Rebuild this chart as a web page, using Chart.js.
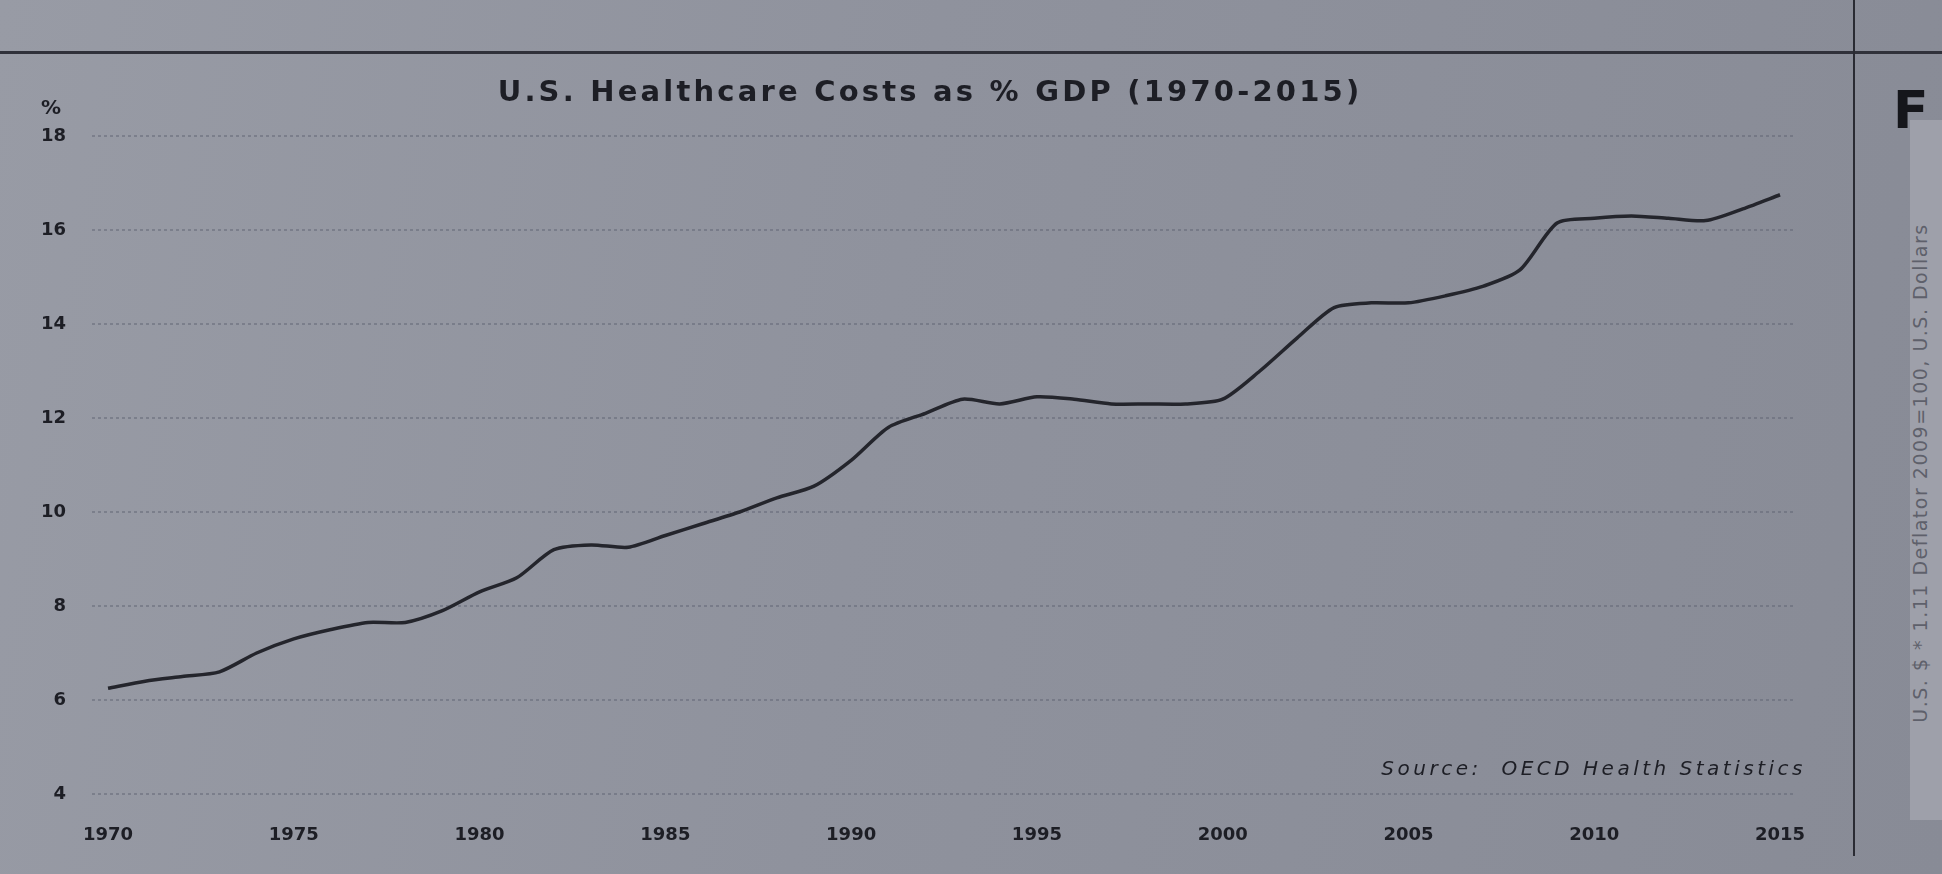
<!DOCTYPE html>
<html>
<head>
<meta charset="utf-8">
<title>U.S. Healthcare Costs as % GDP (1970-2015)</title>
<script src="https://cdn.jsdelivr.net/npm/chart.js@4.4.1/dist/chart.umd.min.js"></script>
<style>
  html, body { margin: 0; padding: 0; }
  body {
    width: 1942px; height: 874px; overflow: hidden; position: relative;
    background: linear-gradient(100deg, #989ba5 0%, #8f929d 45%, #888b96 100%);
    font-family: "DejaVu Sans", sans-serif;
  }
  #wrap { position: absolute; left: 0; top: 0; width: 1860px; height: 874px; }
  .rule-h { position: absolute; left: 0; top: 51px; width: 1942px; height: 3px; background: #30313a; }
  .rule-v { position: absolute; left: 1853px; top: 0; width: 2px; height: 856px; background: #2a2b33; }
  .side { position: absolute; left: 1910px; top: 120px; width: 32px; height: 700px; background: #9ea0aa; }
  .side-f { position: absolute; left: 1893px; top: 80px; font: bold 52px "DejaVu Sans"; color: #15161b; }
  .side-note { position: absolute; left: 1920px; top: 473px; transform: translate(-50%, -50%) rotate(-90deg);
    white-space: nowrap; font-size: 19px; letter-spacing: 1.5px; color: #5e606b; }
</style>
</head>
<body>
<div class="rule-h"></div>
<div class="rule-v"></div>
<div class="side"></div>
<div class="side-f">F</div>
<div class="side-note">U.S. $ * 1.11 Deflator 2009=100, U.S. Dollars</div>
<div id="wrap"><canvas id="HealthcareChart"></canvas></div>
<script>
// U.S. healthcare costs as % of GDP
const years = [1970, 1971, 1972, 1973, 1974, 1975, 1976, 1977, 1978, 1979,
  1980, 1981, 1982, 1983, 1984, 1985, 1986, 1987, 1988, 1989,
  1990, 1991, 1992, 1993, 1994, 1995, 1996, 1997, 1998, 1999,
  2000, 2001, 2002, 2003, 2004, 2005, 2006, 2007, 2008, 2009,
  2010, 2011, 2012, 2013, 2014, 2015];
const healthPctGdp = [6.25, 6.4, 6.5, 6.6, 7.0, 7.3, 7.5, 7.65, 7.65, 7.9,
  8.3, 8.6, 9.2, 9.3, 9.25, 9.5, 9.75, 10.0, 10.3, 10.55,
  11.1, 11.8, 12.1, 12.4, 12.3, 12.45, 12.4, 12.3, 12.3, 12.3,
  12.4, 13.0, 13.7, 14.35, 14.45, 14.45, 14.6, 14.8, 15.15, 16.15,
  16.25, 16.3, 16.25, 16.2, 16.45, 16.75];
const xTicks = [1970, 1975, 1980, 1985, 1990, 1995, 2000, 2005, 2010, 2015];
const yTicks = [4, 6, 8, 10, 12, 14, 16, 18];

const inkColor = '#1d1e25';
const tickFont = { family: 'DejaVu Sans', size: 18, weight: 'bold' };

//title, percent sign and source note (the print uses wide letter spacing)
const decor = {
  id: 'decor',
  afterDraw(chart) {
    const { ctx, chartArea } = chart;
    ctx.save();
    ctx.fillStyle = inkColor;
    ctx.textBaseline = 'middle';

    ctx.textAlign = 'center';
    ctx.font = 'bold 29px "DejaVu Sans"';
    ctx.letterSpacing = '3.2px';
    ctx.fillText('U.S. Healthcare Costs as % GDP (1970-2015)', chart.width / 2, chartArea.top - 43);

    ctx.textAlign = 'right';
    ctx.letterSpacing = '0px';
    ctx.font = 'bold 20px "DejaVu Sans"';
    ctx.fillText('%', chartArea.left - 31, chartArea.top - 27);

    ctx.font = 'italic 20px "DejaVu Sans"';
    ctx.letterSpacing = '3.5px';
    ctx.fillText('Source:  OECD Health Statistics', chartArea.right + 10, chartArea.bottom - 24);
    ctx.restore();
  }
};

const ctx = document.getElementById('HealthcareChart');

new Chart(ctx, {
  type: 'line',
  data: {
    datasets: [{
      label: 'Healthcare costs as % GDP',
      data: years.map((yr, i) => ({ x: yr, y: healthPctGdp[i] })),
      borderColor: '#24252c',
      borderWidth: 3.5,
      pointRadius: 0,
      tension: 0.25,
      fill: false,
    }]
  },
  options: {
    responsive: true,
    maintainAspectRatio: false,
    animation: false,
    layout: { padding: { left: 15, right: 64, top: 136, bottom: 0 } },
    plugins: {
      legend: { display: false },
      tooltip: { enabled: false },
      title: { display: false },
    },
    scales: {
      x: {
        type: 'linear',
        min: 1969.57,
        max: 2015.43,
        afterBuildTicks: (scale) => { scale.ticks = xTicks.map(v => ({ value: v })); },
        afterFit: (scale) => { scale.height = 80; },
        grid: { display: false },
        border: { display: false },
        ticks: {
          padding: 23,
          color: inkColor,
          font: tickFont,
          maxRotation: 0,
          autoSkip: false,
          callback: (v) => String(v),
        },
      },
      y: {
        min: 4,
        max: 18,
        afterBuildTicks: (scale) => { scale.ticks = yTicks.map(v => ({ value: v })); },
        grid: { color: 'rgba(92, 95, 110, 0.45)', lineWidth: 2, drawTicks: false },
        border: { display: false, dash: [3, 3] },
        ticks: {
          padding: 26,
          color: inkColor,
          font: tickFont,
          autoSkip: false,
          callback: (v) => String(v),
        },
      },
    },
  },
  plugins: [decor],
});
</script>
</body>
</html>
